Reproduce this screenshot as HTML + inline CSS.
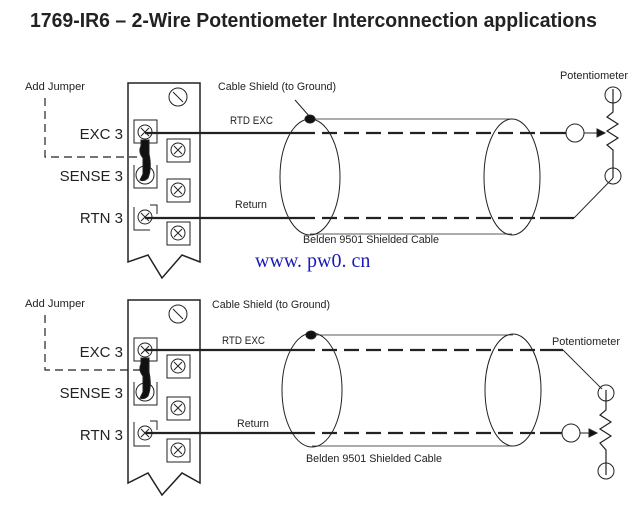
<!DOCTYPE html>
<html><head><meta charset="utf-8"><style>
body{margin:0;background:#fff;width:640px;height:517px;overflow:hidden}
svg text{font-family:"Liberation Sans",sans-serif;fill:#222}
</style></head><body>
<svg width="640" height="517" viewBox="0 0 640 517" xmlns="http://www.w3.org/2000/svg">
<text x="30" y="27" font-size="20" font-weight="bold" fill="#111" textLength="567" lengthAdjust="spacingAndGlyphs">1769-IR6 – 2-Wire Potentiometer Interconnection applications</text>

<!-- TOP DIAGRAM -->
<g stroke="#222" fill="none">
  <text x="25" y="90" font-size="11" stroke="none" textLength="60" lengthAdjust="spacingAndGlyphs">Add Jumper</text>
  <path d="M45 98 V157 H140" stroke-dasharray="8,5" stroke-width="1.2"/>
  <path d="M128 83 H200 V262 L182 255 L162 278 L148 255 L128 262 Z" stroke-width="1.5"/>
  <circle cx="178" cy="97" r="9"/><line x1="173" y1="92" x2="183" y2="102"/>
  <rect x="134" y="120" width="23" height="23"/>
  <rect x="167" y="139" width="23" height="23"/>
  <rect x="167" y="179" width="23" height="23"/>
  <rect x="167" y="222" width="23" height="23"/>
  <path d="M134 165 V188 H157 V165" />
  <path d="M134 207 V230 H150 M150 205 H157 V214"/>
  <g stroke-width="1">
  <circle cx="145" cy="132" r="7"/><path d="M141 128 l8 8 M149 128 l-8 8"/>
  <circle cx="178" cy="150" r="7"/><path d="M174 146 l8 8 M182 146 l-8 8"/>
  <circle cx="178" cy="190" r="7"/><path d="M174 186 l8 8 M182 186 l-8 8"/>
  <circle cx="178" cy="233" r="7"/><path d="M174 229 l8 8 M182 229 l-8 8"/>
  <circle cx="145" cy="175" r="9"/>
  <circle cx="145" cy="217" r="7"/><path d="M141 213 l8 8 M149 213 l-8 8"/>
  </g>
  <path d="M141 140 H149 V154 Q152 168 148 178 Q144 182 140 180 L143 174 V158 Q138 152 141 146 Z" fill="#111"/>
  <text x="123" y="139" font-size="15" text-anchor="end" stroke="none">EXC 3</text>
  <text x="123" y="181" font-size="15" text-anchor="end" stroke="none">SENSE 3</text>
  <text x="123" y="223" font-size="15" text-anchor="end" stroke="none">RTN 3</text>
  <line x1="310" y1="119" x2="512" y2="119" stroke-width="0.8"/>
  <line x1="310" y1="234" x2="512" y2="234" stroke-width="0.8"/>
  <ellipse cx="310" cy="177" rx="30" ry="58"/>
  <ellipse cx="512" cy="177" rx="28" ry="58"/>
  <line x1="295" y1="100" x2="310" y2="117"/>
  <ellipse cx="310" cy="119" rx="5" ry="4" fill="#111"/>
  <text x="218" y="90" font-size="11" stroke="none" textLength="118" lengthAdjust="spacingAndGlyphs">Cable Shield (to Ground)</text>
  <text x="230" y="124" font-size="11" stroke="none" textLength="43" lengthAdjust="spacingAndGlyphs">RTD EXC</text>
  <text x="235" y="208" font-size="11" stroke="none" textLength="32" lengthAdjust="spacingAndGlyphs">Return</text>
  <text x="303" y="243" font-size="11" stroke="none" textLength="136" lengthAdjust="spacingAndGlyphs">Belden 9501 Shielded Cable</text>
  <path d="M145 133 H300 M540 133 H566" stroke-width="2.2"/>
  <line x1="300" y1="133" x2="540" y2="133" stroke-width="2.2" stroke-dasharray="15,7"/>
  <path d="M145 218 H300 M540 218 H574" stroke-width="2.2"/>
  <line x1="300" y1="218" x2="540" y2="218" stroke-width="2.2" stroke-dasharray="15,7"/>
  <line x1="574" y1="218" x2="613" y2="178" stroke-width="0.9"/>
  <circle cx="575" cy="133" r="9" stroke-width="1"/>
  <line x1="584" y1="133" x2="598" y2="133"/>
  <path d="M597 129 L605 133 L597 137 Z" fill="#111"/>
  <text x="560" y="79" font-size="11" stroke="none" textLength="68" lengthAdjust="spacingAndGlyphs">Potentiometer</text>
  <circle cx="613" cy="95" r="8" stroke-width="1"/>
  <circle cx="613" cy="176" r="8" stroke-width="1"/>
  <path d="M613 89 V112 L607 117 L618 124 L607 131 L618 138 L607 145 L613 150 V178" stroke-width="1.2"/>
</g>

<text x="255" y="267" font-size="20" style="font-family:'Liberation Serif',serif;fill:#1a1ab8">www. pw0. cn</text>

<!-- BOTTOM DIAGRAM -->
<g stroke="#222" fill="none">
  <text x="25" y="307" font-size="11" stroke="none" textLength="60" lengthAdjust="spacingAndGlyphs">Add Jumper</text>
  <path d="M45 315 V370 H140" stroke-dasharray="8,5" stroke-width="1.2"/>
  <path d="M128 300 H200 V483 L182 473 L162 495 L148 473 L128 483 Z" stroke-width="1.5"/>
  <circle cx="178" cy="314" r="9"/><line x1="173" y1="309" x2="183" y2="319"/>
  <rect x="134" y="338" width="23" height="23"/>
  <rect x="167" y="355" width="23" height="23"/>
  <rect x="167" y="397" width="23" height="23"/>
  <rect x="167" y="439" width="23" height="23"/>
  <path d="M134 382 V405 H157 V382"/>
  <path d="M134 422 V446 H150 M150 421 H157 V430"/>
  <g stroke-width="1">
  <circle cx="145" cy="350" r="7"/><path d="M141 346 l8 8 M149 346 l-8 8"/>
  <circle cx="178" cy="366" r="7"/><path d="M174 362 l8 8 M182 362 l-8 8"/>
  <circle cx="178" cy="408" r="7"/><path d="M174 404 l8 8 M182 404 l-8 8"/>
  <circle cx="178" cy="450" r="7"/><path d="M174 446 l8 8 M182 446 l-8 8"/>
  <circle cx="145" cy="392" r="9"/>
  <circle cx="145" cy="433" r="7"/><path d="M141 429 l8 8 M149 429 l-8 8"/>
  </g>
  <path d="M141 358 H149 V372 Q152 386 148 396 Q144 400 140 398 L143 392 V376 Q138 370 141 364 Z" fill="#111"/>
  <text x="123" y="357" font-size="15" text-anchor="end" stroke="none">EXC 3</text>
  <text x="123" y="398" font-size="15" text-anchor="end" stroke="none">SENSE 3</text>
  <text x="123" y="440" font-size="15" text-anchor="end" stroke="none">RTN 3</text>
  <line x1="312" y1="335" x2="513" y2="335" stroke-width="0.8"/>
  <line x1="312" y1="446" x2="513" y2="446" stroke-width="0.8"/>
  <ellipse cx="312" cy="390" rx="30" ry="57"/>
  <ellipse cx="513" cy="390" rx="28" ry="56"/>
  <ellipse cx="311" cy="335" rx="5" ry="4" fill="#111"/>
  <text x="212" y="308" font-size="11" stroke="none" textLength="118" lengthAdjust="spacingAndGlyphs">Cable Shield (to Ground)</text>
  <text x="222" y="344" font-size="11" stroke="none" textLength="43" lengthAdjust="spacingAndGlyphs">RTD EXC</text>
  <text x="237" y="427" font-size="11" stroke="none" textLength="32" lengthAdjust="spacingAndGlyphs">Return</text>
  <text x="306" y="462" font-size="11" stroke="none" textLength="136" lengthAdjust="spacingAndGlyphs">Belden 9501 Shielded Cable</text>
  <path d="M145 350 H300 M540 350 H563" stroke-width="2.2"/>
  <line x1="300" y1="350" x2="540" y2="350" stroke-width="2.2" stroke-dasharray="15,7"/>
  <line x1="563" y1="350" x2="602" y2="389" stroke-width="0.9"/>
  <path d="M145 433 H300 M540 433 H562" stroke-width="2.2"/>
  <line x1="300" y1="433" x2="540" y2="433" stroke-width="2.2" stroke-dasharray="15,7"/>
  <circle cx="571" cy="433" r="9" stroke-width="1"/>
  <line x1="580" y1="433" x2="590" y2="433"/>
  <path d="M589 429 L597 433 L589 437 Z" fill="#111"/>
  <text x="552" y="345" font-size="11" stroke="none" textLength="68" lengthAdjust="spacingAndGlyphs">Potentiometer</text>
  <circle cx="606" cy="393" r="8" stroke-width="1"/>
  <circle cx="606" cy="471" r="8" stroke-width="1"/>
  <path d="M606 390 V410 L600 415 L611 422 L600 429 L611 436 L600 443 L606 450 V475" stroke-width="1.2"/>
</g>
</svg>
</body></html>
